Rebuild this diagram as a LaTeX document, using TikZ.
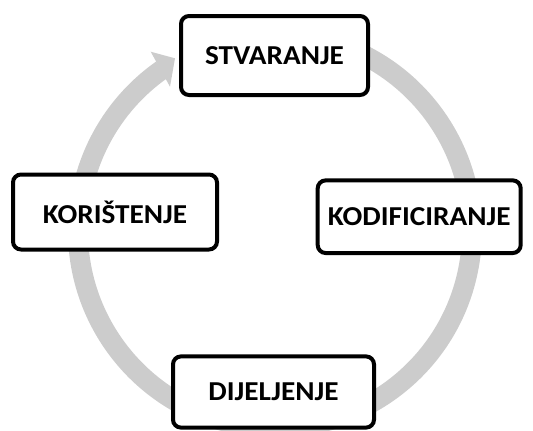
\documentclass[tikz,border=0pt]{standalone}
\usepackage{graphicx}
\usepackage{fontspec}
\setmainfont{Carlito}[BoldFont={Carlito Bold}]
\definecolor{ringgray}{RGB}{204,204,204}
\newcommand{\boxtext}[1]{\scalebox{1.07}[1]{#1}}
\begin{document}
\begin{tikzpicture}[x=0.75pt,y=-0.75pt,
  box/.style={draw=black, line width=3pt, rounded corners=6pt, fill=white, inner sep=0pt,
    text=black, font=\fontsize{20.5}{24}\selectfont\bfseries},
  ring/.style={draw=ringgray, line width=15pt}]
\useasboundingbox (0,0) rectangle (533,430);
\coordinate (c) at (275,231);
\draw[ring] (c) ++(-80:197) arc[start angle=-80, end angle=235, radius=197];
\coordinate (hA) at (150.7,51.7);
\coordinate (hT) at (175,58.3);
\coordinate (hB) at (170,86.7);
\fill[ringgray] (hA) -- (hT) -- (hB) -- cycle;
\node[box, minimum width=140.25pt, minimum height=59.25pt] (stv) at (274.5,55.5) {\boxtext{STVARANJE}};
\node[box, minimum width=152.25pt, minimum height=54.5pt] (kod) at (419.2,216.7) {\boxtext{KODIFICIRANJE}};
\node[box, minimum width=150.75pt, minimum height=53.4pt] (dij) at (273.5,392) {\boxtext{DIJELJENJE}};
\node[box, minimum width=153pt, minimum height=56.25pt] (kor) at (115,212) {\boxtext{KORIŠTENJE}};
\end{tikzpicture}
\end{document}
